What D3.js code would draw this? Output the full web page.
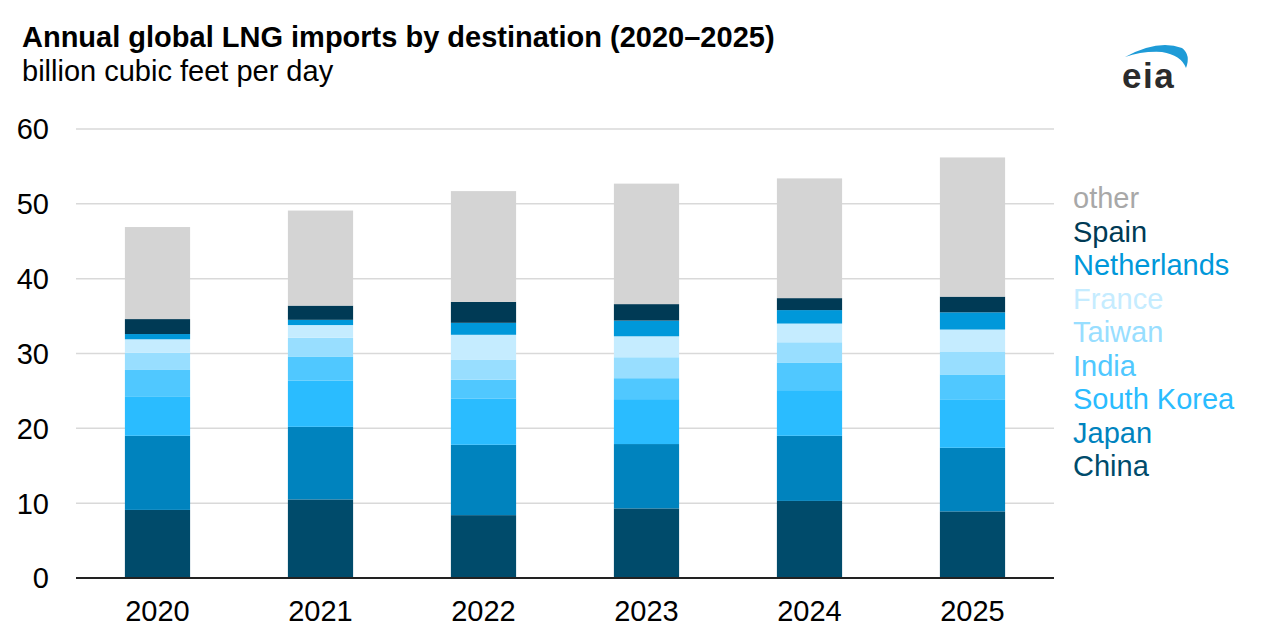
<!DOCTYPE html>
<html><head><meta charset="utf-8">
<script src="https://cdn.jsdelivr.net/npm/d3@7"></script>
<style>
html,body{margin:0;padding:0;background:#fff;}
svg{display:block;font-family:Arial,"Liberation Sans",sans-serif;}
</style></head>
<body><svg id="c" width="1280" height="640"></svg>
<script>
const years = ["2020","2021","2022","2023","2024","2025"];
const seriesNames = ["China","Japan","South Korea","India","Taiwan","France","Netherlands","Spain","other"];
const China       = [9.1, 10.5, 8.4, 9.3, 10.3, 8.9];
const Japan       = [9.9, 9.7, 9.4, 8.6, 8.7, 8.5];
const SouthKorea  = [5.2, 6.2, 6.2, 6.0, 6.1, 6.4];
const India       = [3.6, 3.2, 2.5, 2.8, 3.7, 3.4];
const Taiwan      = [2.3, 2.5, 2.7, 2.8, 2.7, 3.0];
const France      = [1.8, 1.7, 3.3, 2.8, 2.5, 3.0];
const Netherlands = [0.7, 0.7, 1.6, 2.1, 1.8, 2.3];
const Spain       = [2.0, 1.9, 2.8, 2.2, 1.6, 2.1];
const other       = [12.3, 12.7, 14.8, 16.1, 16.0, 18.6];
const yTicks = [0,10,20,30,40,50,60];
const colors = ["#004b6b","#0083be","#2abcff","#50c8ff","#98deff","#c5ecff","#0098da","#003a55","#d4d4d4"];
const legendTextColors = ["#004b6b","#0083be","#2abcff","#50c8ff","#98deff","#c5ecff","#0098da","#003a55","#a8a8a8"];

const valuesBySeries = [China, Japan, SouthKorea, India, Taiwan, France, Netherlands, Spain, other];
const rows = years.map((yr,i)=>{const r={year:yr}; seriesNames.forEach((s,k)=>r[s]=valuesBySeries[k][i]); return r;});
const stacked = d3.stack().keys(seriesNames)(rows);

const svg = d3.select("#c");
const pL = 76, pR = 1054, pT = 129, pB = 578;
const FS = 29;
const x = d3.scaleBand().domain(years).range([pL,pR]).paddingInner(0.6).paddingOuter(0.3);
const y = d3.scaleLinear().domain([0,60]).range([pB,pT]);

// gridlines
svg.append("g").selectAll("line").data(yTicks.filter(d=>d>0)).join("line")
  .attr("x1",pL).attr("x2",pR).attr("y1",d=>y(d)).attr("y2",d=>y(d))
  .attr("stroke","#d9d9d9").attr("stroke-width",1.5);

// y labels
svg.append("g").selectAll("text").data(yTicks).join("text")
  .attr("x",49).attr("y",d=>y(d)).attr("dy","0.36em").attr("text-anchor","end")
  .attr("font-size",FS).attr("fill","#000").text(d=>d);

// bars
svg.append("g").selectAll("g").data(stacked).join("g")
  .attr("fill",(d,i)=>colors[i])
  .selectAll("rect").data(d=>d).join("rect")
  .attr("x",d=>x(d.data.year)).attr("width",x.bandwidth())
  .attr("y",d=>y(d[1])).attr("height",d=>y(d[0])-y(d[1]));

// axis line
svg.append("line").attr("x1",pL).attr("x2",pR).attr("y1",pB).attr("y2",pB)
  .attr("stroke","#222").attr("stroke-width",2);

// x labels
svg.append("g").selectAll("text").data(years).join("text")
  .attr("x",d=>x(d)+x.bandwidth()/2).attr("y",621).attr("text-anchor","middle")
  .attr("font-size",FS).attr("fill","#000").text(d=>d);

// legend (top = other)
const legendOrder = seriesNames.map((s,i)=>({s,i})).reverse();
svg.append("g").selectAll("text").data(legendOrder).join("text")
  .attr("x",1073).attr("y",(d,k)=>208+k*33.5)
  .attr("font-size",FS).attr("fill",d=>legendTextColors[d.i]).text(d=>d.s);

// title
svg.append("text").attr("x",22).attr("y",47).attr("font-size",FS).attr("font-weight","bold")
  .attr("fill","#000").text("Annual global LNG imports by destination (2020–2025)");
svg.append("text").attr("x",22).attr("y",81).attr("font-size",FS)
  .attr("fill","#000").text("billion cubic feet per day");

// eia logo
const logo = svg.append("g");
logo.append("path").attr("d","M1125,57 Q1158,39 1182,48 Q1191,55 1186,68 Q1181,55 1162,52 Q1142,51 1125,57 Z").attr("fill","#1e9bd7");
logo.append("text").attr("x",1122).attr("y",88).attr("font-size",35).attr("font-weight","bold")
  .attr("letter-spacing",1.5).attr("fill","#2b2b2b").text("eia");
</script></body></html>
